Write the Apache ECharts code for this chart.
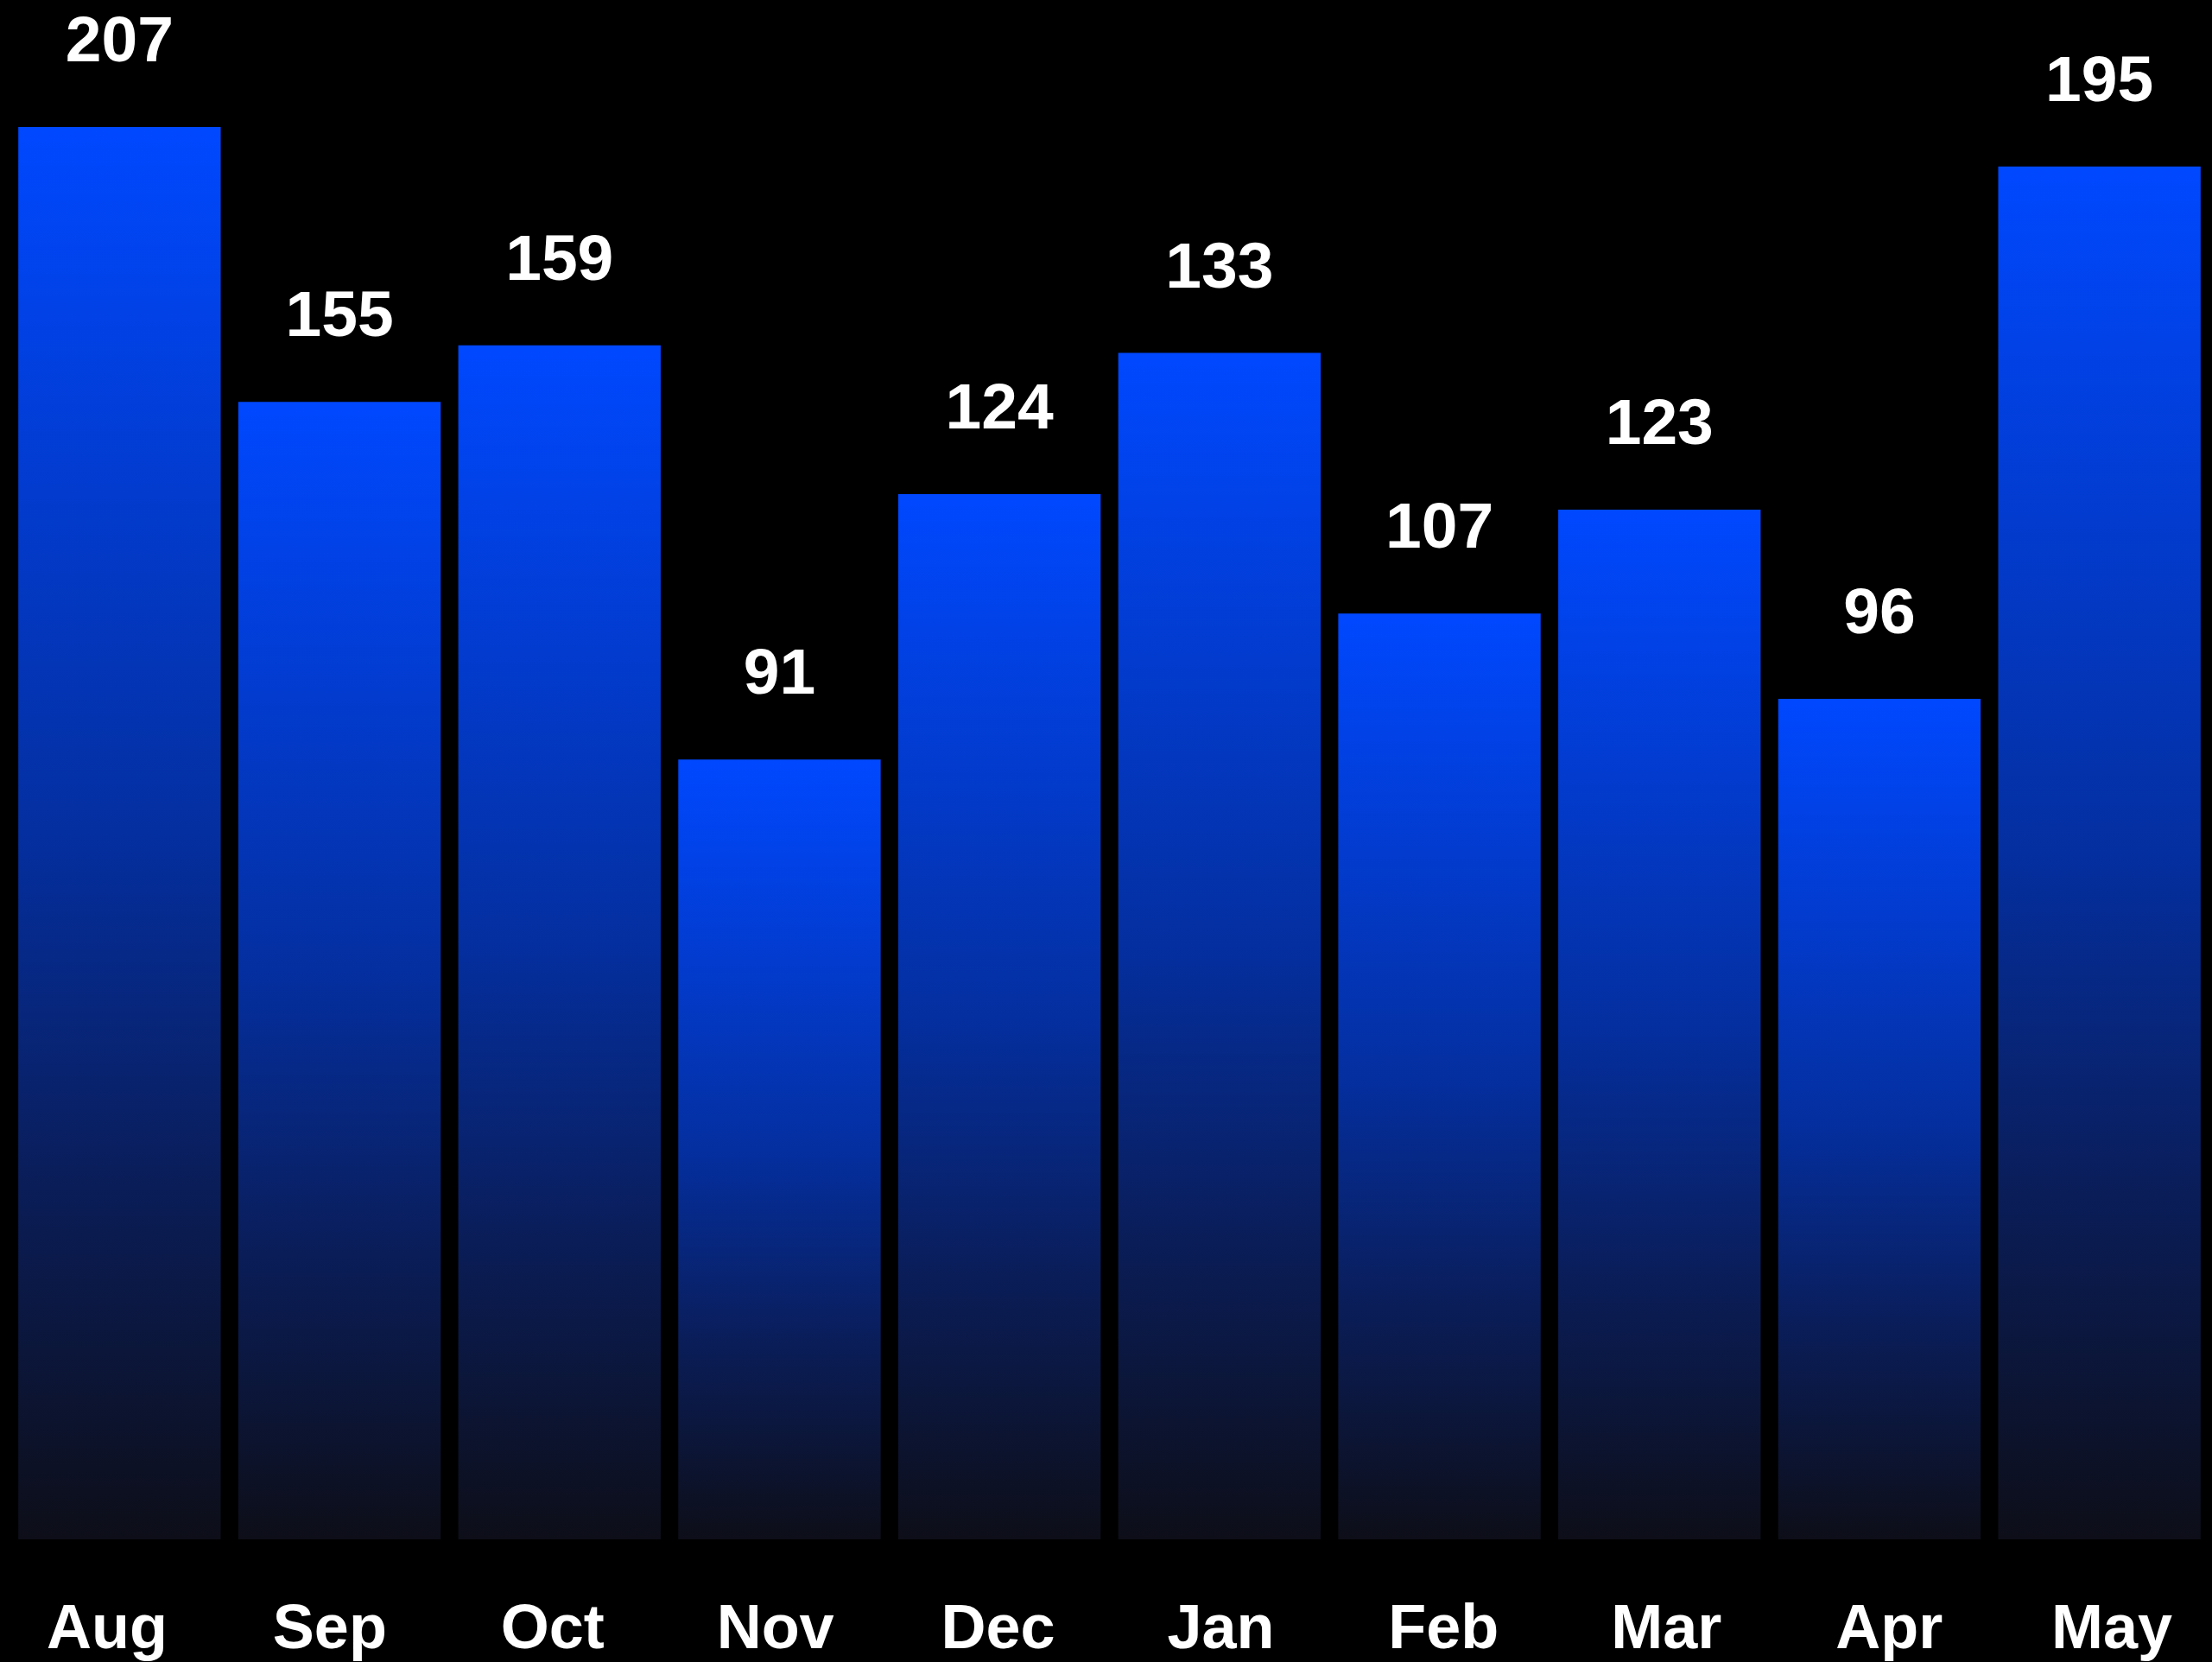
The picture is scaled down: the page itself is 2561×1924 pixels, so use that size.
<!DOCTYPE html>
<html>
<head>
<meta charset="utf-8">
<script src="https://cdn.jsdelivr.net/npm/echarts@6/dist/echarts.min.js"></script>
<style>
  html, body { margin: 0; padding: 0; background: #000; }
  #chart { width: 2561px; height: 1924px; }
</style>
</head>
<body>
<div id="chart"></div>
<script>
// 月份
const months = ['Aug', 'Sep', 'Oct', 'Nov', 'Dec', 'Jan', 'Feb', 'Mar', 'Apr', 'May']
// 柱子高度
const barHeights = [207, 166.7, 175, 114.3, 153.2, 173.9, 135.7, 150.9, 123.2, 201.2]
// 柱顶显示的数字
const labelValues = [207, 155, 159, 91, 124, 133, 107, 123, 96, 195]

const chartDom = document.getElementById('chart')
const myChart = echarts.init(chartDom)

const option = {
  backgroundColor: '#000000',
  animation: false,
  // grid 0 放柱子，grid 1 只放月份标签（间距略宽）
  grid: [
    { left: 11, right: 3, top: 147, bottom: 142, containLabel: false, outerBoundsMode: 'none' },
    { left: -5, right: -13, top: 147, bottom: 142, containLabel: false, outerBoundsMode: 'none' },
  ],
  xAxis: [
    {
      type: 'category',
      gridIndex: 0,
      data: months,
      axisLine: { show: false },
      axisTick: { show: false },
      axisLabel: { show: false },
    },
    {
      type: 'category',
      gridIndex: 1,
      data: months,
      axisLine: { show: false },
      axisTick: { show: false },
      axisLabel: {
        color: '#ffffff',
        fontSize: 72,
        fontWeight: 'bold',
        fontFamily: '"Liberation Sans", Arial, sans-serif',
        margin: 70,
      },
    },
  ],
  yAxis: [
    { type: 'value', gridIndex: 0, min: 0, max: 207, show: false },
    { type: 'value', gridIndex: 1, min: 0, max: 207, show: false },
  ],
  series: [
    {
      type: 'bar',
      xAxisIndex: 0,
      yAxisIndex: 0,
      data: barHeights,
      barCategoryGap: '8%',
      itemStyle: {
        color: new echarts.graphic.LinearGradient(0, 0, 0, 1, [
          { offset: 0, color: '#0048ff' },
          { offset: 0.5, color: '#042fa0' },
          { offset: 0.75, color: '#0a1d58' },
          { offset: 1, color: '#0d0e18' },
        ]),
      },
      label: {
        show: true,
        position: 'top',
        distance: 59,
        color: '#ffffff',
        fontSize: 75,
        fontWeight: 'bold',
        fontFamily: '"Liberation Sans", Arial, sans-serif',
        formatter: (p) => String(labelValues[p.dataIndex]),
      },
    },
  ],
}

myChart.setOption(option)
</script>
</body>
</html>
